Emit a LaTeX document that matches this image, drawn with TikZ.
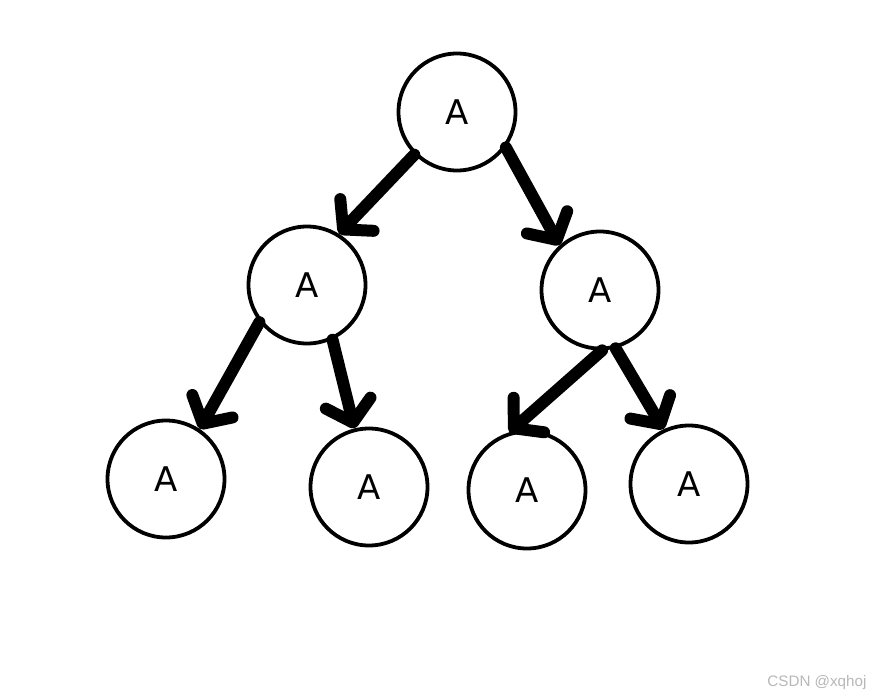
\documentclass[tikz,border=0pt]{standalone}
\usepackage{fontspec}
\setmainfont{DejaVu Sans}
\newfontfamily\wmfont{Liberation Sans}
\usetikzlibrary{arrows.meta}
\begin{document}
\begin{tikzpicture}[x=1pt,y=-1pt,
  tnode/.style={circle,draw=black,line width=3.8pt,minimum size=117pt,inner sep=0pt,
    font=\fontsize{34}{34}\selectfont},
  arr/.style={line width=12pt,line cap=round,line join=round,
    -{Straight Barb[length=20pt,width=46pt,round]}},
  wm/.style={text=black!28,font=\wmfont\fontsize{15.2}{16}\selectfont}]
\useasboundingbox (0,0) rectangle (872,698);
\fill[white] (0,0) rectangle (872,698);
\node[tnode] (root) at (457,112) {A};
\node[tnode] (l1) at (307,285) {A};
\node[tnode] (r1) at (600,290) {A};
\node[tnode] (ll) at (166,479) {A};
\node[tnode] (lr) at (369,487) {A};
\node[tnode] (rl) at (527,490) {A};
\node[tnode] (rr) at (689,484) {A};
\draw[arr] (root.-135) -- (l1.58);
\draw[arr] (root.-36) -- (r1.132);
\draw[arr] (l1.-142) -- (ll.56);
\draw[arr] (l1.-65) -- (lr.104);
\draw[arr] (r1.-88) -- (rl.107);
\draw[arr] (r1.-75) -- (rr.115);
\node[wm,anchor=east] (mark) at (870,683) {CSDN @xqhoj};
\end{tikzpicture}
\end{document}
